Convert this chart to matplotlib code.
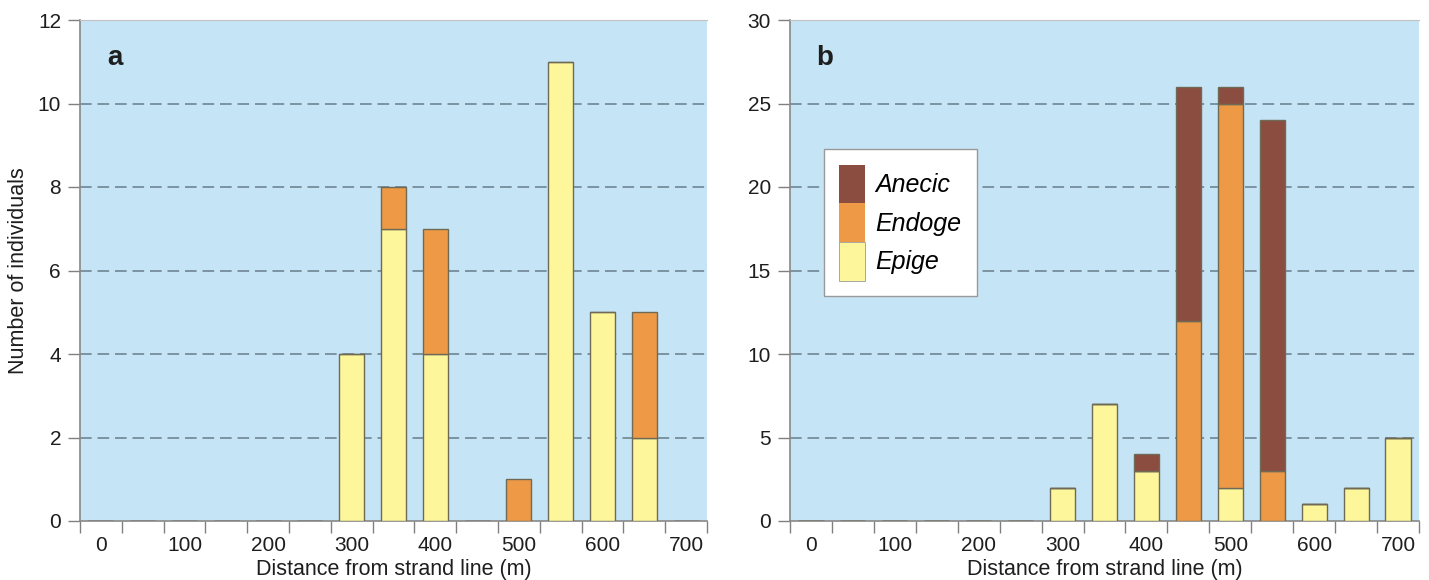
import matplotlib
matplotlib.use("Agg")
import matplotlib.pyplot as plt
from matplotlib.patches import Patch

plt.rcParams['font.family'] = ['Liberation Sans', 'DejaVu Sans']

distances = [0, 50, 100, 150, 200, 250, 300, 350, 400, 450, 500, 550, 600, 650, 700]

# Panel a
a_epige  = [0, 0, 0, 0, 0, 0, 4, 7, 4, 0, 0, 11, 5, 2, 0]
a_endoge = [0, 0, 0, 0, 0, 0, 0, 1, 3, 0, 1, 0, 0, 3, 0]

# Panel b
b_epige  = [0, 0, 0, 0, 0, 0, 2, 7, 3, 0, 2, 0, 1, 2, 5]
b_endoge = [0, 0, 0, 0, 0, 0, 0, 0, 0, 12, 23, 3, 0, 0, 0]
b_anecic = [0, 0, 0, 0, 0, 0, 0, 0, 1, 14, 1, 21, 0, 0, 0]

x_labels = [0, 100, 200, 300, 400, 500, 600, 700]
group_names = ["Anecic", "Endoge", "Epige"]

BG = "#C5E5F7"
C_EPI = "#FDF69B"
C_END = "#EE9945"
C_ANE = "#8B4D3F"
EDGE = "#6E6A55"
GRID = "#6F8593"
TXT = "#1E1E1E"

fig = plt.figure(figsize=(14.29, 5.8), dpi=100)
H = 580.0
W = 1429.0
bottom = (H - 521) / H
height = 501 / H
ax_a = fig.add_axes([80 / W, bottom, 627 / W, height])
ax_b = fig.add_axes([790 / W, bottom, 629 / W, height])

def style(ax, ymax, ystep, letter):
    ax.set_facecolor(BG)
    ax.set_xlim(-25, 725)
    ax.set_ylim(0, ymax)
    ax.set_yticks(list(range(0, ymax + 1, ystep)))
    for y in range(ystep, ymax, ystep):
        ax.axhline(y, color=GRID, lw=1.2, ls=(0, (7, 3.5)), zorder=1)
    ax.set_xticks(list(range(-25, 726, 50)))
    ax.set_xticklabels([])
    ax.set_xticks(x_labels, minor=True)
    ax.set_xticklabels([str(v) for v in x_labels], minor=True)
    ax.tick_params(axis='x', which='major', length=8.6, width=1, color="#808080", direction='out')
    ax.tick_params(axis='x', which='minor', length=0, pad=11.0, labelsize=15, labelcolor=TXT)
    ax.tick_params(axis='y', which='major', length=8.6, width=1, color="#808080",
                   labelsize=15, labelcolor=TXT, pad=5.0)
    for s in ['left', 'bottom']:
        ax.spines[s].set_color("#888888")
        ax.spines[s].set_linewidth(1.2)
    ax.spines['top'].set_color("#C0C0C0")
    ax.spines['right'].set_visible(False)
    ax.set_xlabel("Distance from strand line (m)", fontsize=15.5, color=TXT, labelpad=3)
    ax.text(0.055, 0.924, letter, transform=ax.transAxes, fontsize=20,
            fontweight='bold', ha='center', va='center', color=TXT)

style(ax_a, 12, 2, "a")
style(ax_b, 30, 5, "b")

bw = 30
ax_a.bar(distances, a_epige, width=bw, color=C_EPI, edgecolor=EDGE, lw=1, zorder=3)
ax_a.bar(distances, a_endoge, width=bw, bottom=a_epige, color=C_END, edgecolor=EDGE, lw=1, zorder=3)
ax_a.set_ylabel("Number of individuals", fontsize=15.5, color=TXT, labelpad=6)

b_bot2 = [e + n for e, n in zip(b_epige, b_endoge)]
ax_b.bar(distances, b_epige, width=bw, color=C_EPI, edgecolor=EDGE, lw=1, zorder=3)
ax_b.bar(distances, b_endoge, width=bw, bottom=b_epige, color=C_END, edgecolor=EDGE, lw=1, zorder=3)
ax_b.bar(distances, b_anecic, width=bw, bottom=b_bot2, color=C_ANE, edgecolor=EDGE, lw=1, zorder=3)

handles = [Patch(facecolor=C_ANE, edgecolor='none'),
           Patch(facecolor=C_END, edgecolor='none'),
           Patch(facecolor=C_EPI, edgecolor='#999999', lw=0.6)]
leg = ax_b.legend(handles, group_names, loc='upper left', bbox_to_anchor=(0.054, 0.742),
                  prop={'size': 18, 'style': 'italic'}, handlelength=1.04, handleheight=2.0,
                  labelspacing=0.0, handletextpad=0.4, borderpad=0.62, borderaxespad=0,
                  frameon=True, fancybox=False, framealpha=1.0, edgecolor="#999999")
leg.get_frame().set_linewidth(1.0)
leg.set_zorder(5)

fig.savefig("out.png", dpi=100)
